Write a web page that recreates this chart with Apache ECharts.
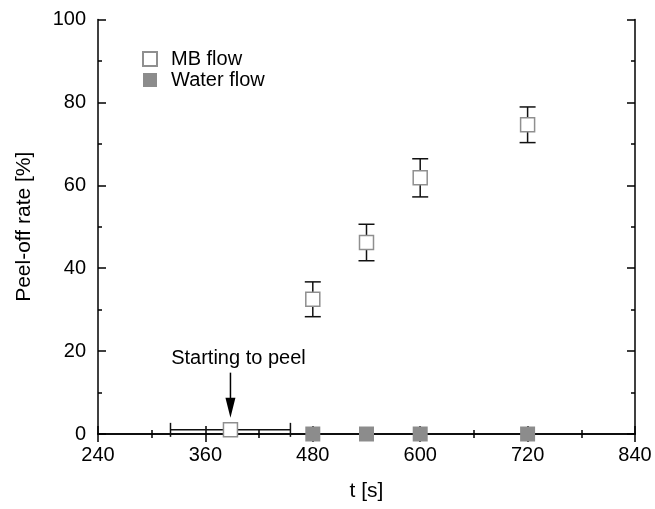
<!DOCTYPE html>
<html>
<head>
<meta charset="utf-8">
<script src="https://cdn.jsdelivr.net/npm/echarts@6/dist/echarts.min.js"></script>
<style>html,body{margin:0;padding:0;background:#fff}#c{width:655px;height:509px}</style>
</head>
<body>
<div id="c"></div>
<script>
// Data
var xTicks = [240, 360, 480, 600, 720, 840];
var yTicks = [0, 20, 40, 60, 80, 100];
var mbT = [388, 480, 540, 600, 720];
var mbRate = [1, 32.5, 46.2, 61.8, 74.6];
var mbRateErr = [0, 4.2, 4.4, 4.6, 4.3];
var mbTErr = [67, 0, 0, 0, 0];
var waterT = [480, 540, 600, 720];
var waterRate = [0, 0, 0, 0];
var annotation = {t: 388, textY: 18.3, arrowFrom: 14.8, arrowTo: 3.9, text: 'Starting to peel'};

var FONT = 'Liberation Sans, Arial, sans-serif';
var chart = echarts.init(document.getElementById('c'), null, {renderer: 'canvas'});

var errData = mbT.map(function (t, i) { return [t, mbRate[i], mbRateErr[i], mbTErr[i]]; });

function axisCommon() {
  return {
    axisLine: {show: true, lineStyle: {color: '#000', width: 1.5}},
    axisTick: {show: true, inside: true, length: 8, lineStyle: {color: '#000', width: 1.5}},
    minorTick: {show: true, splitNumber: 2, length: 4, lineStyle: {color: '#000', width: 1.5}},
    splitLine: {show: false}
  };
}

var option = {
  animation: false,
  backgroundColor: '#fff',
  grid: {left: 98, right: 20, top: 19.5, bottom: 75, containLabel: false},
  legend: {
    orient: 'vertical', left: 142, top: 49, padding: 0, itemWidth: 14, itemHeight: 14, itemGap: 1,
    textStyle: {fontFamily: FONT, fontSize: 20, color: '#000', lineHeight: 20, padding: [0, 0, 0, 9]},
    data: ['MB flow', 'Water flow']
  },
  xAxis: [
    Object.assign(axisCommon(), {
      type: 'value', min: xTicks[0], max: xTicks[xTicks.length - 1], interval: 120, position: 'bottom',
      name: 't [s]', nameLocation: 'middle', nameGap: 47,
      nameTextStyle: {fontFamily: FONT, fontSize: 21, color: '#000'},
      axisLabel: {fontFamily: FONT, fontSize: 20, color: '#000', margin: 11}
    }),
    Object.assign(axisCommon(), {
      type: 'value', min: xTicks[0], max: xTicks[xTicks.length - 1], interval: 120, position: 'top',
      axisLabel: {show: false}
    })
  ],
  yAxis: [
    Object.assign(axisCommon(), {
      type: 'value', min: yTicks[0], max: yTicks[yTicks.length - 1], interval: 20, position: 'left',
      name: 'Peel-off rate [%]', nameLocation: 'middle', nameGap: 63,
      nameTextStyle: {fontFamily: FONT, fontSize: 21, color: '#000'},
      axisLabel: {fontFamily: FONT, fontSize: 20, color: '#000', margin: 12}
    }),
    Object.assign(axisCommon(), {
      type: 'value', min: yTicks[0], max: yTicks[yTicks.length - 1], interval: 20, position: 'right',
      axisLabel: {show: false}
    })
  ],
  series: [
    {
      type: 'custom', name: 'err', clip: false, z: 2, silent: true,
      data: errData,
      renderItem: function (params, api) {
        var t = api.value(0), r = api.value(1), er = api.value(2), et = api.value(3);
        var children = [];
        var st = {stroke: '#111', lineWidth: 1.5};
        if (er > 0) {
          var a = api.coord([t, r + er]), b = api.coord([t, r - er]);
          children.push({type: 'line', shape: {x1: a[0], y1: a[1], x2: b[0], y2: b[1]}, style: st});
          children.push({type: 'line', shape: {x1: a[0] - 8, y1: a[1], x2: a[0] + 8, y2: a[1]}, style: st});
          children.push({type: 'line', shape: {x1: b[0] - 8, y1: b[1], x2: b[0] + 8, y2: b[1]}, style: st});
        }
        if (et > 0) {
          var c = api.coord([t - et, r]), d = api.coord([t + et, r]);
          children.push({type: 'line', shape: {x1: c[0], y1: c[1], x2: d[0], y2: d[1]}, style: st});
          children.push({type: 'line', shape: {x1: c[0], y1: c[1] - 7, x2: c[0], y2: c[1] + 7}, style: st});
          children.push({type: 'line', shape: {x1: d[0], y1: d[1] - 7, x2: d[0], y2: d[1] + 7}, style: st});
        }
        return {type: 'group', children: children};
      }
    },
    {
      type: 'custom', name: 'annot', clip: false, z: 2, silent: true,
      data: [[annotation.t, annotation.textY, annotation.arrowFrom, annotation.arrowTo]],
      renderItem: function (params, api) {
        var t = api.value(0);
        var p = api.coord([t, api.value(1)]);
        var a = api.coord([t, api.value(2)]);
        var b = api.coord([t, api.value(3)]);
        var headLen = 20;
        return {type: 'group', children: [
          {type: 'text', style: {text: annotation.text, x: p[0] + 8, y: p[1], align: 'center', verticalAlign: 'middle',
            font: '20px ' + FONT, fill: '#000'}},
          {type: 'line', shape: {x1: a[0], y1: a[1], x2: b[0], y2: b[1] - headLen + 2}, style: {stroke: '#000', lineWidth: 1.5}},
          {type: 'polygon', shape: {points: [[b[0] - 5, b[1] - headLen], [b[0] + 5, b[1] - headLen], [b[0], b[1]]]}, style: {fill: '#000'}}
        ]};
      }
    },
    {
      type: 'scatter', name: 'MB flow', symbol: 'rect', symbolSize: 14, clip: false, z: 5,
      itemStyle: {color: '#fff', borderColor: '#8f8f8f', borderWidth: 1.5, opacity: 1},
      data: mbT.map(function (t, i) { return [t, mbRate[i]]; })
    },
    {
      type: 'scatter', name: 'Water flow', symbol: 'rect', symbolSize: 15, clip: false, z: 5,
      itemStyle: {color: '#8c8c8c', opacity: 1},
      data: waterT.map(function (t, i) { return [t, waterRate[i]]; })
    }
  ]
};
chart.setOption(option);
</script>
</body>
</html>
